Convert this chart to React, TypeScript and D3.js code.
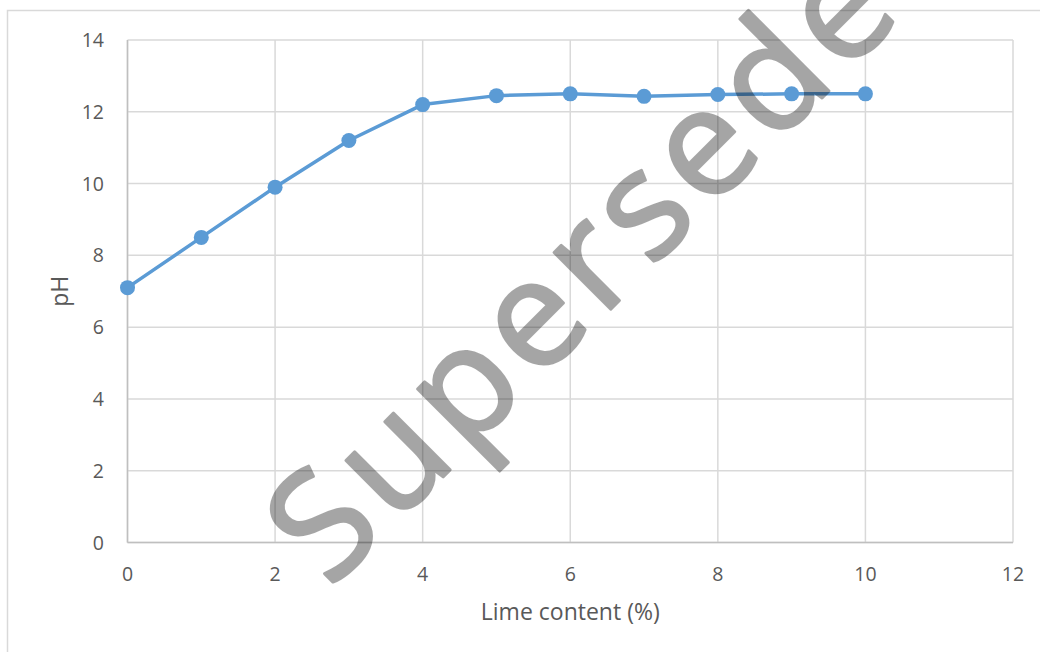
import React from "react";
import * as d3 from "d3";

const limeContent = [0, 1, 2, 3, 4, 5, 6, 7, 8, 9, 10];
const phValues = [7.1, 8.5, 9.9, 11.2, 12.2, 12.45, 12.5, 12.43, 12.48, 12.5, 12.5];
const xTicks = [0, 2, 4, 6, 8, 10, 12];
const yTicks = [0, 2, 4, 6, 8, 10, 12, 14];
const xTitle = "Lime content (%)";
const yTitle = "pH";
const watermark = "Superseded";

const W = 1040;
const H = 652;
const left = 127.5;
const right = 1013;
const top = 40;
const bottom = 542.5;

export default function App() {
  const x = d3.scaleLinear().domain([0, 12]).range([left, right]);
  const y = d3.scaleLinear().domain([0, 14]).range([bottom, top]);
  const line = d3
    .line<number>()
    .x((_, i) => x(limeContent[i]))
    .y((d) => y(d));
  const font = "'Open Sans', sans-serif";
  const labelColor = "#595959";
  return (
    <svg
      width={W}
      height={H}
      style={{ position: "absolute", left: 0, top: 0, background: "#fff" }}
    >
      <rect x={7.5} y={10.5} width={1200} height={800} fill="#fff" stroke="#d9d9d9" strokeWidth={1.5} />
      {yTicks.map((t) => (
        <line key={"gy" + t} x1={left} x2={right} y1={y(t)} y2={y(t)} stroke="#d9d9d9" strokeWidth={1.5} />
      ))}
      {xTicks.map((t) => (
        <line key={"gx" + t} x1={x(t)} x2={x(t)} y1={top} y2={bottom} stroke="#d9d9d9" strokeWidth={1.5} />
      ))}
      <line x1={left} x2={right} y1={bottom} y2={bottom} stroke="#bfbfbf" strokeWidth={1.5} />
      <line x1={left} x2={left} y1={top} y2={bottom} stroke="#bfbfbf" strokeWidth={1.5} />
      {yTicks.map((t) => (
        <text key={"ty" + t} x={104} y={y(t)} dy="0.36em" textAnchor="end" fontFamily={font} fontSize={19.5} fill={labelColor}>
          {t}
        </text>
      ))}
      {xTicks.map((t) => (
        <text key={"tx" + t} x={x(t)} y={574} dy="0.36em" textAnchor="middle" fontFamily={font} fontSize={19.5} fill={labelColor}>
          {t}
        </text>
      ))}
      <text x={(left + right) / 2} y={612} dy="0.36em" textAnchor="middle" fontFamily={font} fontSize={23} fill={labelColor}>
        {xTitle}
      </text>
      <text
        transform={`translate(60,${(top + bottom) / 2}) rotate(-90)`}
        dy="0.36em"
        textAnchor="middle"
        fontFamily={font}
        fontSize={23}
        fill={labelColor}
      >
        {yTitle}
      </text>
      <path d={line(phValues) || ""} fill="none" stroke="#5b9bd5" strokeWidth={3.5} strokeLinejoin="round" />
      {phValues.map((v, i) => (
        <circle key={"p" + i} cx={x(limeContent[i])} cy={y(v)} r={7.5} fill="#5b9bd5" />
      ))}
      <g opacity={0.35}>
        <text
          transform="translate(330,590) rotate(-45)"
          fontFamily="'Open Sans', sans-serif"
          fontSize={150}
          style={{ letterSpacing: "8.5px" }}
          fill="#000"
          stroke="#000"
          strokeWidth={3}
          strokeLinejoin="round"
        >
          {watermark}
        </text>
      </g>
    </svg>
  );
}
